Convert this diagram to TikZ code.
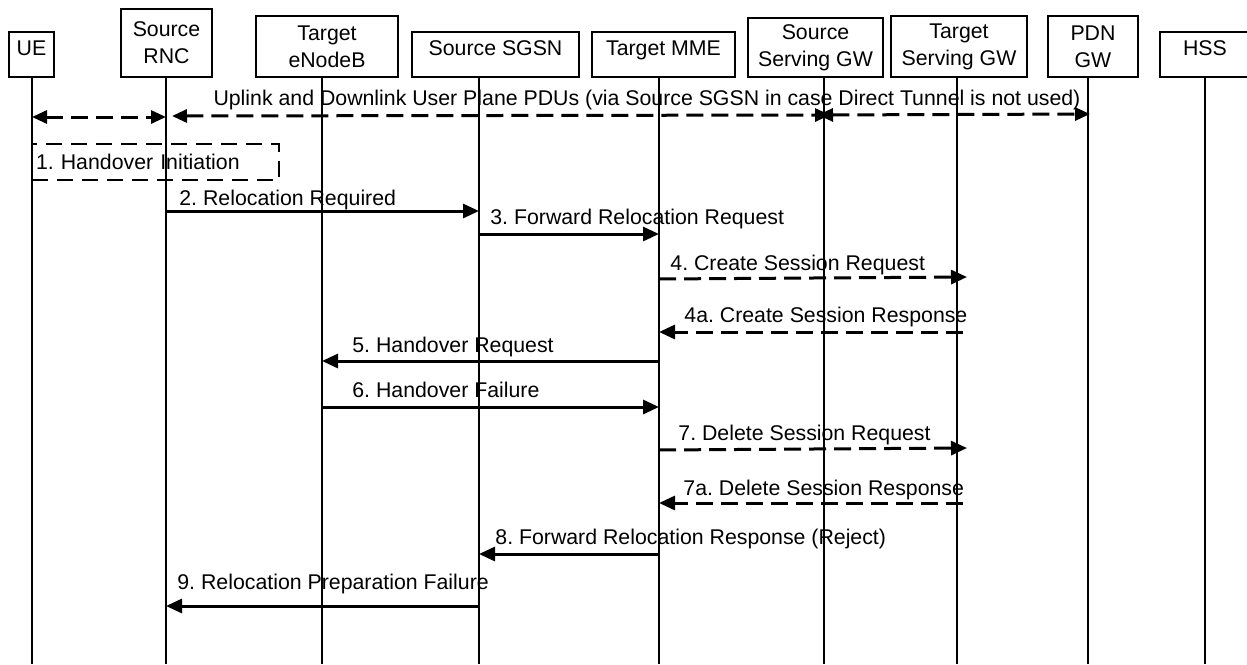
\documentclass[tikz,border=0pt]{standalone}
\usepackage{fontspec}
\setmainfont{Liberation Sans}
\usetikzlibrary{arrows.meta}

\begin{document}
\begin{tikzpicture}[
  x=0.5pt, y=-0.5pt,
  font=\fontsize{10.65}{13.5}\selectfont\frenchspacing,
  actor/.style={draw, line width=1.2pt, align=center, inner sep=0pt},
  actorone/.style={actor, text height=7.7pt, text depth=7pt},
  life/.style={line width=1pt},
  msg/.style={line width=1.5pt, -{Triangle[length=8pt, width=7pt]}},
  dmsg/.style={msg, dash pattern=on 8.5pt off 4pt},
  pdu/.style={dmsg, {Triangle[length=7.5pt, width=6.5pt]}-{Triangle[length=7.5pt, width=6.5pt]}},
  lbl/.style={anchor=west, inner sep=0pt, text height=7.7pt, text depth=0pt},
  hobox/.style={draw, line width=1.3pt, dash pattern=on 8pt off 4.5pt, text width=119.5pt, align=left, inner xsep=2pt, inner ysep=0pt, minimum height=18pt, text height=7.7pt, text depth=0pt}
]
\useasboundingbox (0,0) rectangle (1247,664);

\node[actorone, minimum width=22.5pt, minimum height=22.5pt] (ue) at (31.5,54.5) {UE};
\node[actor, minimum width=45.5pt, minimum height=34pt] (rnc) at (166.5,43) {Source\\RNC};
\node[actor, minimum width=71pt, minimum height=30.5pt] (enb) at (327,46.5) {Target\\eNodeB};
\node[actorone, minimum width=83.5pt, minimum height=22.5pt] (sgsn) at (495.5,54.5) {Source SGSN};
\node[actorone, minimum width=71.5pt, minimum height=22.5pt] (mme) at (663.5,54.5) {Target MME};
\node[actor, minimum width=67.5pt, minimum height=29.5pt] (ssgw) at (815.5,47.5) {Source\\Serving GW};
\node[actor, minimum width=68pt, minimum height=30.5pt] (tsgw) at (959,46.5) {Target\\Serving GW};
\node[actor, minimum width=45pt, minimum height=30.5pt] (pgw) at (1093,46.5) {PDN\\GW};
\node[actorone, minimum width=45pt, minimum height=22.5pt] (hss) at (1205,54.5) {HSS};

\coordinate (bot) at (0,664);
\coordinate (ue-l) at (32,77);
\coordinate (rnc-l) at (166,77);
\coordinate (enb-l) at (322,77);
\coordinate (sgsn-l) at (479,77);
\coordinate (mme-l) at (659,77);
\coordinate (ssgw-l) at (824,77);
\coordinate (tsgw-l) at (957,77);
\coordinate (pgw-l) at (1088,77);
\coordinate (hss-l) at (1205,77);

\draw[life] (ue-l) -- (ue-l |- bot);
\draw[life] (rnc-l) -- (rnc-l |- bot);
\draw[life] (enb-l) -- (enb-l |- bot);
\draw[life] (sgsn-l) -- (sgsn-l |- bot);
\draw[life] (mme-l) -- (mme-l |- bot);
\draw[life] (ssgw-l) -- (ssgw-l |- bot);
\draw[life] (tsgw-l) -- (tsgw-l |- bot);
\draw[life] (pgw-l) -- (pgw-l |- bot);
\draw[life] (hss-l) -- (hss-l |- bot);

\node[lbl, anchor=center] (pdus) at (647,98) {Uplink and Downlink User Plane PDUs (via Source SGSN in case Direct Tunnel is not used)};
\draw[pdu] (ue-l |- 0,117) -- (rnc-l |- 0,117);
\draw[pdu] ([xshift=3pt]rnc-l |- 0,116) -- ([xshift=3pt]ssgw-l |- 0,115);
\draw[pdu] ([xshift=-3pt]ssgw-l |- 0,115) -- ([xshift=1pt]pgw-l |- 0,114);

\node[hobox] (hoinit) at (155.5,162) {1. Handover Initiation};

\node[lbl] (l2) at (179,198) {2. Relocation Required};
\draw[msg] (rnc-l |- 0,211) -- (sgsn-l |- 0,211);
\node[lbl] (l3) at (490,217) {3. Forward Relocation Request};
\draw[msg] (sgsn-l |- 0,234) -- (mme-l |- 0,234);
\node[lbl] (l4) at (670,263) {4. Create Session Request};
\draw[dmsg] (mme-l |- 0,279) -- ([xshift=5pt]tsgw-l |- 0,277);
\node[lbl] (l4a) at (684,315) {4a. Create Session Response};
\draw[dmsg] ([xshift=3pt]tsgw-l |- 0,332) -- (mme-l |- 0,332);
\node[lbl] (l5) at (352,345) {5. Handover Request};
\draw[msg] (mme-l |- 0,361) -- (enb-l |- 0,361);
\node[lbl] (l6) at (352,390) {6. Handover Failure};
\draw[msg] (enb-l |- 0,407) -- (mme-l |- 0,407);
\node[lbl] (l7) at (678,433) {7. Delete Session Request};
\draw[dmsg] (mme-l |- 0,450) -- ([xshift=5pt]tsgw-l |- 0,448);
\node[lbl] (l7a) at (683,488) {7a. Delete Session Response};
\draw[dmsg] ([xshift=3pt]tsgw-l |- 0,503) -- (mme-l |- 0,503);
\node[lbl] (l8) at (495,537) {8. Forward Relocation Response (Reject)};
\draw[msg] (mme-l |- 0,554) -- (sgsn-l |- 0,554);
\node[lbl] (l9) at (177,582) {9. Relocation Preparation Failure};
\draw[msg] (sgsn-l |- 0,606) -- (rnc-l |- 0,606);
\end{tikzpicture}
\end{document}
